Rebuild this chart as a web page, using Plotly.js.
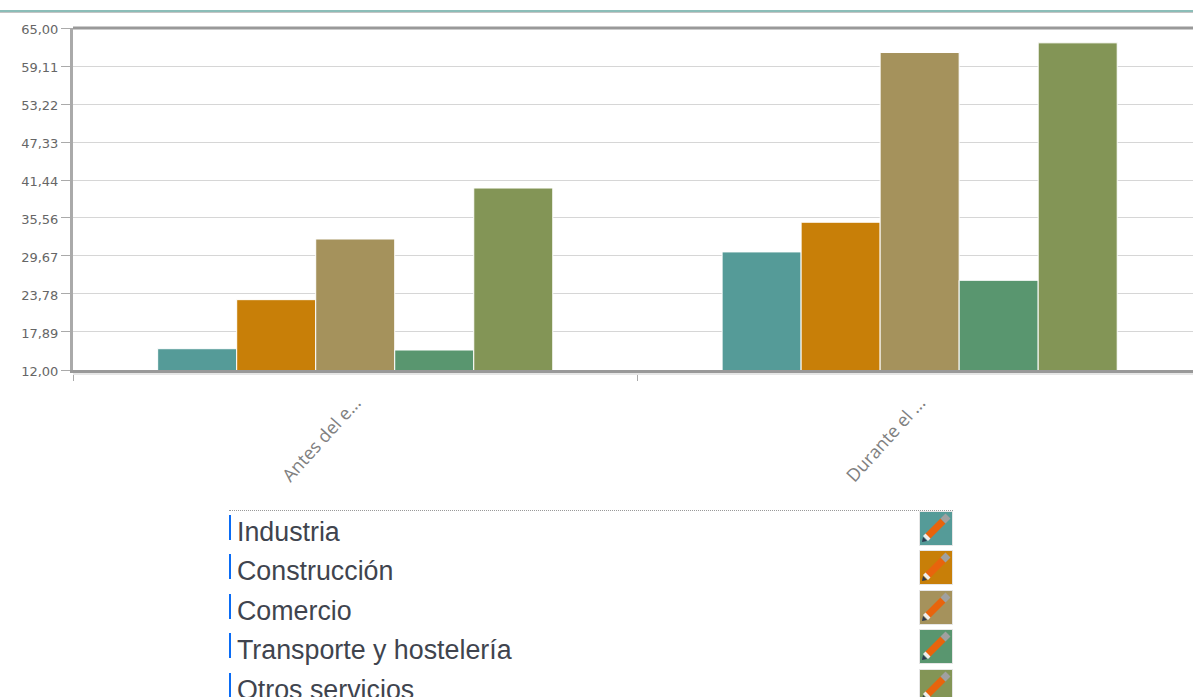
<!DOCTYPE html>
<html>
<head>
<meta charset="utf-8">
<script src="https://cdn.plot.ly/plotly-3.0.1.min.js"></script>
<style>
  html, body { margin: 0; padding: 0; width: 1193px; height: 697px; overflow: hidden; background: #fff; }
  #rule { position: absolute; left: 0; top: 10px; width: 1193px; height: 2px; background: #8bbdb8; border-bottom: 1px solid #c4c4c4; box-sizing: content-box; }
  #chart { position: absolute; left: 0; top: 0; }
  #key { position: absolute; left: 229px; top: 510px; width: 724px; margin: 0; padding: 0; list-style: none; border-top: 1px dotted #999; font-family: "Liberation Sans", Arial, sans-serif; font-size: 26.8px; color: #40444e; }
  #key li { position: relative; height: 39.4px; }
  #key li::before { content: ""; position: absolute; left: 0; top: 4px; width: 2px; height: 25px; background: #0a6cf5; }
  #key span { position: absolute; left: 8px; top: 6px; line-height: 30px; white-space: nowrap; }
  #key svg { position: absolute; right: 0; top: 0; width: 34px; height: 35px; }
</style>
</head>
<body>
<div id="chart"></div>
<div id="rule"></div>
<ul id="key"></ul>
<script>
// Sectors and the two periods compared
const periods = ['Antes del e...', 'Durante el ...'];
const sectors = ['Industria', 'Construcción', 'Comercio', 'Transporte y hostelería', 'Otros servicios'];
const industria = [15.3, 30.3];
const construccion = [22.9, 34.9];
const comercio = [32.3, 61.2];
const transporte = [15.1, 25.9];
const otros = [40.2, 62.7];
const sectorValues = [industria, construccion, comercio, transporte, otros];
const sectorColors = ['#559b98', '#c87f08', '#a5925c', '#59966f', '#839556'];
const yTicks = [12, 17.89, 23.78, 29.67, 35.56, 41.44, 47.33, 53.22, 59.11, 65];
const yTickLabels = ['12,00', '17,89', '23,78', '29,67', '35,56', '41,44', '47,33', '53,22', '59,11', '65,00'];

const traces = sectors.map((name, i) => ({
  type: 'bar',
  name: name,
  x: periods,
  y: sectorValues[i],
  marker: { color: sectorColors[i], line: { color: '#ffffff', width: 1 } }
}));

// The plot runs past the right edge of the window, so the figure is wider than the page
const layout = {
  width: 1210,
  height: 500,
  margin: { l: 73, r: 7, t: 28, b: 130 },
  paper_bgcolor: '#ffffff',
  plot_bgcolor: '#ffffff',
  showlegend: false,
  barmode: 'group',
  bargap: 0.3,
  bargroupgap: 0,
  font: { family: '"DejaVu Sans", sans-serif', size: 13, color: '#666' },
  xaxis: {
    type: 'category',
    range: [-0.5, 1.502],
    tickson: 'boundaries',
    ticks: 'outside',
    ticklen: 8,
    tickcolor: '#aaa',
    tickangle: -48,
    ticklabelstandoff: 12,
    showline: true,
    linecolor: '#999',
    linewidth: 3,
    showgrid: false,
    tickfont: { family: '"Open Sans", sans-serif', size: 18, color: '#808080' }
  },
  yaxis: {
    range: [12, 65],
    tickmode: 'array',
    tickvals: yTicks,
    ticktext: yTickLabels,
    ticks: 'outside',
    ticklen: 9,
    tickcolor: '#aaa',
    showline: true,
    linecolor: '#aaa',
    linewidth: 3,
    gridcolor: '#d6d6d6',
    gridwidth: 1,
    zeroline: false,
    tickfont: { size: 13, color: '#666' }
  },
  shapes: [
    { type: 'line', xref: 'paper', yref: 'paper', x0: 0, x1: 1, y0: 1, y1: 1, line: { color: '#999', width: 3 } },
    // soft edge under the baseline
    { type: 'line', xref: 'paper', yref: 'paper', x0: 0, x1: 1, y0: -0.012, y1: -0.012, line: { color: '#e6e6e6', width: 2 } }
  ]
};

Plotly.newPlot('chart', traces, layout, { displayModeBar: false, staticPlot: true }).then(() => {
  // The value labels sit a little below their gridlines
  document.querySelectorAll('.ytick text').forEach(t => t.setAttribute('dy', '1.5'));
});

// Editable list of sectors under the chart, each with its colour swatch and pencil
const key = document.getElementById('key');
sectors.forEach((name, i) => {
  const li = document.createElement('li');
  const label = document.createElement('span');
  label.textContent = name;
  li.appendChild(label);
  li.insertAdjacentHTML('beforeend',
    '<svg viewBox="0 0 34 35">' +
    '<rect x="0.5" y="0.5" width="33" height="34" fill="' + sectorColors[i] + '" stroke="#e6e6e6"/>' +
    '<line x1="8" y1="26" x2="24" y2="10" stroke="#e8640c" stroke-width="7"/>' +
    '<line x1="24" y1="10" x2="29" y2="5" stroke="#a0a0a0" stroke-width="7"/>' +
    '<line x1="6.5" y1="27.5" x2="9" y2="25" stroke="#eeeeee" stroke-width="7"/>' +
    '<path d="M3 31 L4 26 L8 30 Z" fill="#2c3a50"/>' +
    '</svg>');
  key.appendChild(li);
});
</script>
</body>
</html>
